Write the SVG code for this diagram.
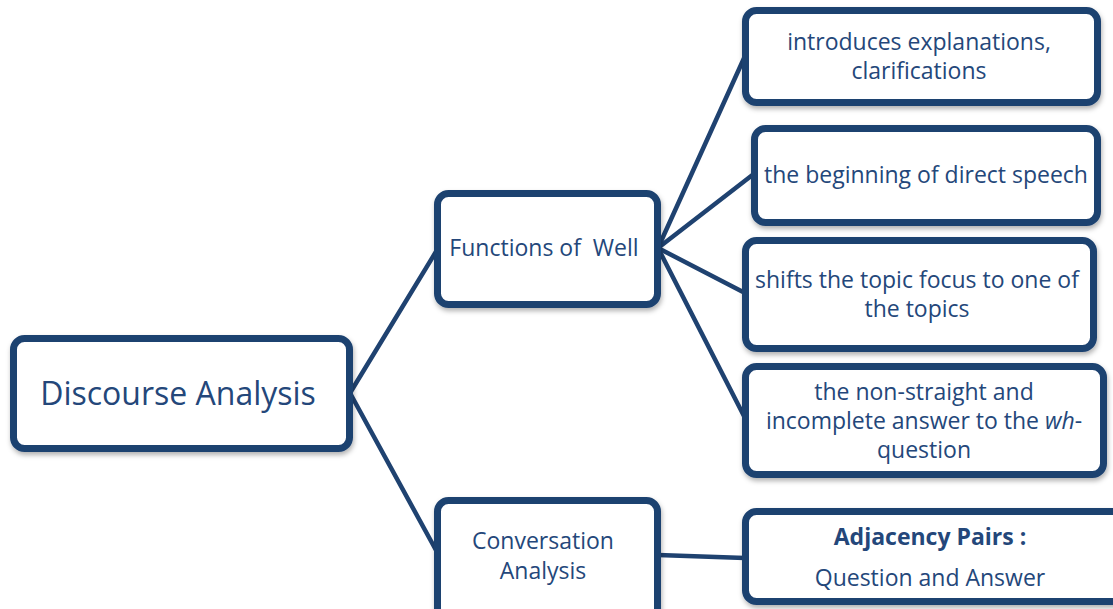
<svg xmlns="http://www.w3.org/2000/svg" width="1113" height="609" viewBox="0 0 1113 609">
<defs>
<filter id="sh" x="-10%" y="-10%" width="120%" height="130%">
<feDropShadow dx="1" dy="3" stdDeviation="2.5" flood-color="#000" flood-opacity="0.3"/>
</filter>
<style>
.box{fill:#fff;stroke:#1f4270;stroke-width:7;filter:url(#sh)}
.t{font-family:"Open Sans","Noto Sans",sans-serif;fill:#24477a;text-anchor:middle}
.s{font-size:23px}
.c{stroke:#1f4270;stroke-width:4.5;fill:none;stroke-linecap:round}
</style>
</defs>
<rect width="1113" height="609" fill="#fff"/>
<g id="connectors">
<line class="c" x1="350" y1="393" x2="437" y2="250"/>
<line class="c" x1="350" y1="393" x2="437" y2="552"/>
<line class="c" x1="658" y1="248" x2="745" y2="56"/>
<line class="c" x1="658" y1="248" x2="755" y2="173"/>
<line class="c" x1="658" y1="248" x2="745" y2="293"/>
<line class="c" x1="658" y1="248" x2="745" y2="418"/>
<line class="c" x1="658" y1="555" x2="745" y2="558"/>
</g>
<g id="discourse">
<rect class="box" x="13.5" y="338.5" width="336" height="110" rx="11"/>
<text class="t" x="178" y="405" font-size="32">Discourse Analysis</text>
</g>
<g id="functions">
<rect class="box" x="437.5" y="193.5" width="220" height="111" rx="11"/>
<text class="t s" x="544" y="256">Functions of&#160; Well</text>
</g>
<g id="conversation">
<rect class="box" x="437.5" y="500.5" width="220" height="120" rx="11"/>
<text class="t s" x="543" y="549">Conversation</text>
<text class="t s" x="543" y="579">Analysis</text>
</g>
<g id="introduces">
<rect class="box" x="745.5" y="10.5" width="352" height="92" rx="11"/>
<text class="t s" x="919" y="50">introduces explanations,</text>
<text class="t s" x="919" y="79">clarifications</text>
</g>
<g id="beginning">
<rect class="box" x="754.5" y="128.5" width="343" height="94" rx="11"/>
<text class="t s" x="926" y="183">the beginning of direct speech</text>
</g>
<g id="shifts">
<rect class="box" x="745.5" y="240.5" width="348" height="108" rx="11"/>
<text class="t s" x="917" y="288">shifts the topic focus to one of</text>
<text class="t s" x="917" y="317">the topics</text>
</g>
<g id="nonstraight">
<rect class="box" x="745.5" y="366.5" width="358" height="108" rx="11"/>
<text class="t s" x="924" y="400">the non-straight and</text>
<text class="t s" x="924" y="429">incomplete answer to the <tspan font-style="italic">wh</tspan>-</text>
<text class="t s" x="924" y="458">question</text>
</g>
<g id="adjacency">
<rect class="box" x="745.5" y="511.5" width="380" height="90" rx="11"/>
<text class="t s" x="930" y="545" font-weight="bold">Adjacency Pairs :</text>
<text class="t s" x="930" y="586">Question and Answer</text>
</g>
</svg>
